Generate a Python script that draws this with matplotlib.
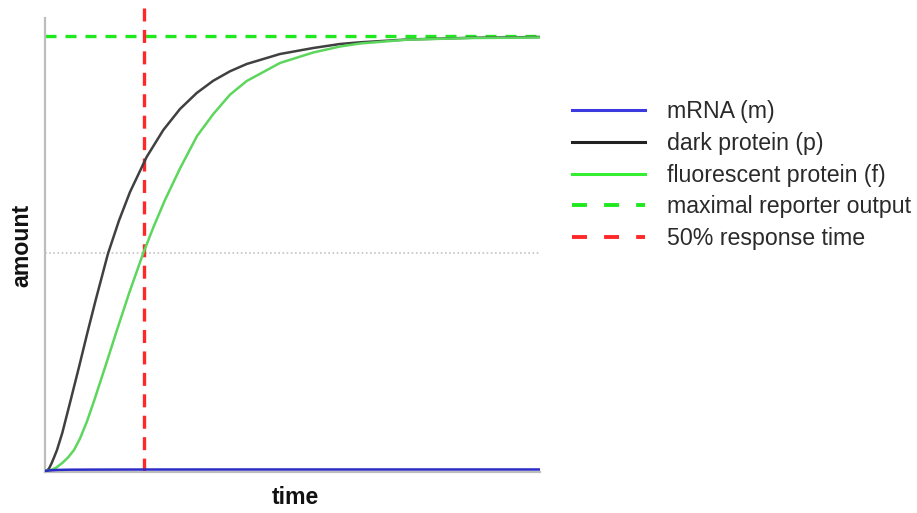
import matplotlib
matplotlib.use("Agg")
import matplotlib.pyplot as plt
import matplotlib.lines as mlines

plt.rcParams['font.family'] = ['Liberation Sans', 'DejaVu Sans']

# ---- data (time in arbitrary units, amount normalised to max) ----
mrna_t = [0, 0.1, 0.25, 0.5, 1.0, 2.0, 4.0, 6.0, 8.0, 10.0]
mrna_a = [0, 0.0015, 0.0025, 0.003, 0.0032, 0.0034, 0.0035, 0.0035, 0.0035, 0.0035]

dark_t = [0, 0.040, 0.081, 0.131, 0.182, 0.242, 0.349, 0.519, 0.687, 0.855, 1.024,
          1.273, 1.495, 1.717, 2.053, 2.390, 2.727, 3.065, 3.400, 3.737, 4.075,
          4.747, 5.420, 5.960, 6.364, 7.313, 8.646, 10.0]
dark_a = [0, 0.0009, 0.0057, 0.0172, 0.0310, 0.0482, 0.0873, 0.1630, 0.2388, 0.3169, 0.3926,
          0.4994, 0.5752, 0.6406, 0.7210, 0.7830, 0.8312, 0.8680, 0.8962, 0.9178, 0.9346,
          0.9575, 0.9713, 0.9805, 0.9844, 0.9908, 0.9949, 0.9966]

fluo_t = [0, 0.101, 0.216, 0.349, 0.465, 0.586, 0.707, 0.848, 0.990, 1.212, 1.428,
          1.697, 1.986, 2.192, 2.424, 2.727, 3.071, 3.400, 3.737, 4.075, 4.747,
          5.420, 5.960, 6.364, 7.313, 8.646, 10.0]
fluo_a = [0, 0.0016, 0.0069, 0.0184, 0.0310, 0.0482, 0.0744, 0.1139, 0.1607, 0.2377, 0.3146,
          0.4076, 0.5006, 0.5603, 0.6223, 0.6946, 0.7692, 0.8197, 0.8641, 0.8955, 0.9369,
          0.9610, 0.9747, 0.9816, 0.9904, 0.9943, 0.9954]

max_output = 1.0
half_level = 0.5
t50 = 2.0

labels = ["mRNA (m)", "dark protein (p)", "fluorescent protein (f)",
          "maximal reporter output", "50% response time"]

# ---- figure ----
W, H = 917, 513
fig = plt.figure(figsize=(W / 100, H / 100), dpi=100)
ax_left, ax_right, ax_top, ax_bot = 45, 540, 8, 472
ax = fig.add_axes([ax_left / W, 1 - ax_bot / H, (ax_right - ax_left) / W, (ax_bot - ax_top) / H])

scale = 435.5
y_bot = (471 - ax_bot) / scale
y_top = (471 - ax_top) / scale
ax.set_xlim(0, 10)
ax.set_ylim(y_bot, y_top)

ax.plot([0, 10], [half_level, half_level], color="#c4c4c4", lw=1.2, ls=(0, (1, 1.5)), zorder=1)

ax.plot(mrna_t, mrna_a, color="#2b2bc8", lw=1.8, zorder=4)
ax.plot(dark_t, dark_a, color="#404040", lw=1.8, zorder=3, solid_joinstyle="round")
ax.plot(fluo_t, fluo_a, color="#5cd65c", lw=1.8, zorder=3, solid_joinstyle="round")
ax.axhline(max_output, color="#1fe81f", lw=2.4, dashes=(3.3, 2.7), zorder=2)
ax.plot([t50, t50], [y_top, 0], color="#ff2828", lw=2.4, dashes=(3.9, 2.53), zorder=2,
        clip_on=False)

for s in ["top", "right"]:
    ax.spines[s].set_visible(False)
for s in ["left", "bottom"]:
    ax.spines[s].set_color("#bdbdbd")
    ax.spines[s].set_linewidth(1.6)
ax.spines["left"].set_bounds(y_bot, (471 - 18) / scale)
ax.set_xticks([])
ax.set_yticks([])

fig.text(295 / W, 1 - 497 / H, "time", ha="center", va="center",
         fontsize=16.7, fontweight="bold", color="#111111")
fig.text(22 / W, 1 - 245 / H, "amount", ha="center", va="center", rotation=90,
         fontsize=16.7, fontweight="bold", color="#111111")

h = [mlines.Line2D([], [], color="#3a3ae0", lw=2.2),
     mlines.Line2D([], [], color="#222222", lw=2.2),
     mlines.Line2D([], [], color="#33ee33", lw=2.2),
     mlines.Line2D([], [], color="#1fe81f", lw=2.8, dashes=(3.85, 4.4)),
     mlines.Line2D([], [], color="#ff2828", lw=2.8, dashes=(3.85, 4.4))]
fig.legend(h, labels, loc="upper left", bbox_to_anchor=(572 / W, 1 - 100 / H),
           frameon=False, fontsize=16.7, handlelength=3.15, handletextpad=0.95,
           labelspacing=0.38, borderpad=0, borderaxespad=0, labelcolor="#2a2a2a")

fig.savefig("out.png", dpi=100)
